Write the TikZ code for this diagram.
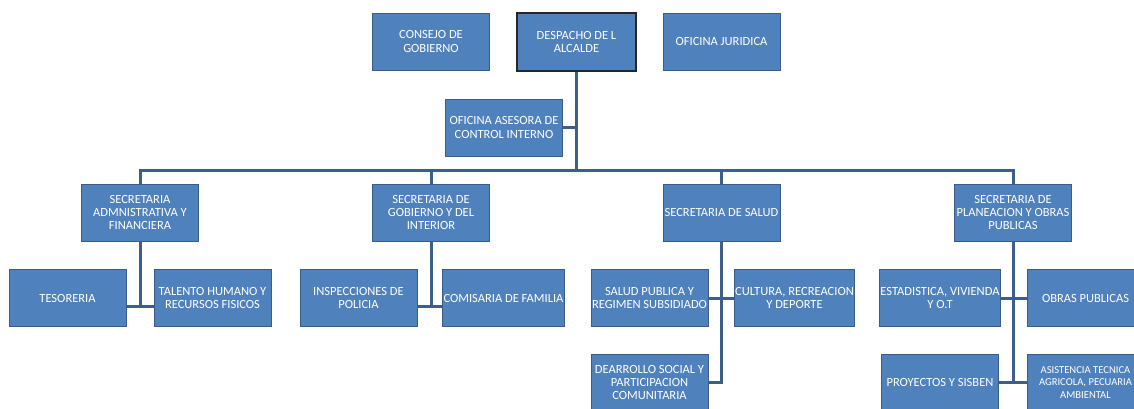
\documentclass[tikz,border=0pt]{standalone}
\usepackage{fontspec}
\setmainfont{Carlito}
\usepackage{tikz}
\usetikzlibrary{calc}
\definecolor{orgblue}{RGB}{79,129,189}
\definecolor{orgedge}{RGB}{56,93,138}
\definecolor{orgline}{RGB}{62,94,138}
\tikzset{
  unit/.style={rectangle,fill=orgblue,draw=orgedge,line width=.8pt,
    minimum width=117pt,minimum height=57pt,inner sep=1pt,
    text=white,align=center,font=\fontsize{12.5}{13.2}\selectfont},
  head/.style={unit,draw=black!85,line width=2.5pt,minimum width=119pt,minimum height=58pt},
  link/.style={orgline,line width=3pt}
}
\begin{document}
\begin{tikzpicture}[x=1pt,y=-1pt]
\useasboundingbox (0,0) rectangle (1134,408);
%top level
\node[unit] (consejo) at (431,41.5) {CONSEJO DE\\GOBIERNO};
\node[head] (despacho) at (576.5,42) {DESPACHO DE L\\ALCALDE};
\node[unit] (juridica) at (721.5,41.5) {OFICINA JURIDICA};
\node[unit] (asesora) at (504,127.5) {OFICINA ASESORA DE\\CONTROL INTERNO};
%secretarias
\node[unit] (admin) at (140,212.5) {SECRETARIA\\ADMNISTRATIVA Y\\FINANCIERA};
\node[unit] (gobierno) at (431,212.5) {SECRETARIA DE\\GOBIERNO Y DEL\\INTERIOR};
\node[unit] (salud) at (721.5,212.5) {SECRETARIA DE SALUD};
\node[unit] (planeacion) at (1013,212.5) {SECRETARIA DE\\PLANEACION Y OBRAS\\PUBLICAS};
%dependencias
\node[unit] (tesoreria) at (67.5,298) {TESORERIA};
\node[unit] (talento) at (212.5,298) {TALENTO HUMANO Y\\RECURSOS FISICOS};
\node[unit] (inspecciones) at (358.5,298) {INSPECCIONES DE\\POLICIA};
\node[unit] (comisaria) at (503.5,298) {COMISARIA DE FAMILIA};
\node[unit] (saludpub) at (649.5,298) {SALUD PUBLICA Y\\REGIMEN SUBSIDIADO};
\node[unit] (cultura) at (794.5,298) {CULTURA, RECREACION\\Y DEPORTE};
\node[unit] (desarrollo) at (649.5,382.5) {DEARROLLO SOCIAL Y\\PARTICIPACION\\COMUNITARIA};
\node[unit] (estadistica) at (940,298) {ESTADISTICA, VIVIENDA\\Y O.T};
\node[unit] (obras) at (1085.5,298) {OBRAS PUBLICAS};
\node[unit] (proyectos) at (940,382.5) {PROYECTOS Y SISBEN};
\node[unit,font=\fontsize{10.6}{12.6}\selectfont] (asistencia) at (1085.5,382.5) {ASISTENCIA TECNICA\\AGRICOLA, PECUARIA\\AMBIENTAL};
%main line
\coordinate (spL) at (140,170);
\coordinate (spM) at (576.5,170);
\draw[link] (despacho.south) -- (spM);
\draw[link] (asesora.east) -- (asesora.east -| spM);
\draw[link] (admin.north) -- (admin.north |- spL) -- (planeacion.north |- spL) -- (planeacion.north);
\draw[link] (gobierno.north |- spL) -- (gobierno.north);
\draw[link] (salud.north |- spL) -- (salud.north);
%branches
\coordinate (tA) at (140,306);
\coordinate (tG) at (431,306);
\draw[link] (admin.south) -- (tA);
\draw[link] (tesoreria.east |- tA) -- (talento.west |- tA);
\draw[link] (gobierno.south) -- (tG);
\draw[link] (inspecciones.east |- tG) -- (comisaria.west |- tG);
\draw[link] (salud.south) -- (salud.south |- desarrollo.east) -- (desarrollo.east);
\draw[link] (saludpub.east) -- (cultura.west);
\draw[link] (planeacion.south) -- (planeacion.south |- proyectos.east);
\draw[link] (estadistica.east) -- (obras.west);
\draw[link] (proyectos.east) -- (asistencia.west);
\end{tikzpicture}
\end{document}
